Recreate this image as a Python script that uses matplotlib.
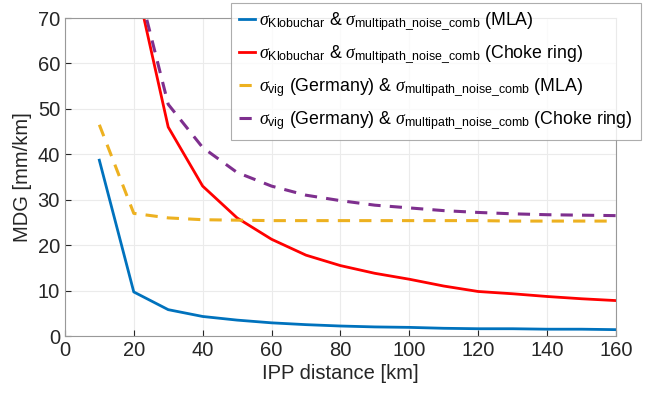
import numpy as np
import matplotlib.pyplot as plt

plt.rcParams['font.family'] = 'Liberation Sans'
plt.rcParams['mathtext.fontset'] = 'custom'
plt.rcParams['mathtext.rm'] = 'Liberation Sans'
plt.rcParams['mathtext.it'] = 'Liberation Serif:italic'

# IPP distance [km]
dist = np.arange(10, 170, 10)

# MDG [mm/km]
klob_mla = [38.7, 9.7, 5.8, 4.3, 3.5, 2.9, 2.5, 2.2, 2.0, 1.9, 1.7, 1.6, 1.6, 1.5, 1.5, 1.4]
klob_choke = [np.nan, 80.0, 46.0, 33.0, 26.0, 21.3, 17.8, 15.5, 13.8, 12.5, 11.0, 9.8, 9.3, 8.7, 8.2, 7.8]
vig_mla = [46.5, 27.0, 26.0, 25.6, 25.5, 25.4, 25.4, 25.4, 25.4, 25.4, 25.4, 25.4, 25.3, 25.3, 25.3, 25.3]
vig_choke = [np.nan, 81.0, 51.0, 41.5, 36.0, 33.0, 31.0, 29.8, 28.8, 28.2, 27.6, 27.2, 26.9, 26.7, 26.6, 26.5]

labels = [
    r'$\sigma_{\mathrm{Klobuchar}}$ & $\sigma_{\mathrm{multipath\_noise\_comb}}$ (MLA)',
    r'$\sigma_{\mathrm{Klobuchar}}$ & $\sigma_{\mathrm{multipath\_noise\_comb}}$ (Choke ring)',
    r'$\sigma_{\mathrm{vig}}$ (Germany) & $\sigma_{\mathrm{multipath\_noise\_comb}}$ (MLA)',
    r'$\sigma_{\mathrm{vig}}$ (Germany) & $\sigma_{\mathrm{multipath\_noise\_comb}}$ (Choke ring)',
]

fig = plt.figure(figsize=(6.49, 3.96), dpi=100)
ax = fig.add_axes([0.100, 0.1515, 0.849, 0.803])

ax.plot(dist, klob_mla, '-', color='#0072BD', lw=2, label=labels[0])
ax.plot(dist, klob_choke, '-', color='#FF0000', lw=2, label=labels[1])
ax.plot(dist, vig_mla, '--', color='#EDB120', lw=2.2, dashes=(4, 3), label=labels[2])
ax.plot(dist, vig_choke, '--', color='#7E2F8E', lw=2.2, dashes=(4, 3), label=labels[3])

ax.set_xlim(0, 160)
ax.set_ylim(0, 70)
ax.set_xticks(np.arange(0, 161, 20))
ax.set_yticks(np.arange(0, 71, 10))
ax.tick_params(direction='in', labelsize=14.5, colors='#262626', length=4)
for s in ax.spines.values():
    s.set_color('#999999')
ax.grid(True, color='#ebebeb', lw=0.8)
ax.set_axisbelow(True)
ax.set_xlabel('IPP distance [km]', fontsize=14.5, color='#262626', labelpad=3)
ax.set_ylabel('MDG [mm/km]', fontsize=14.5, color='#262626')

leg = ax.legend(loc='upper right', bbox_to_anchor=(0.987, 0.993), bbox_transform=fig.transFigure,
                fontsize=12.8, frameon=True, fancybox=False, edgecolor='#999999',
                handlelength=0.9, handletextpad=0.2, borderpad=0.45, labelspacing=0.6,
                borderaxespad=0)
leg.get_frame().set_linewidth(0.8)

plt.savefig('out.png', dpi=100)
